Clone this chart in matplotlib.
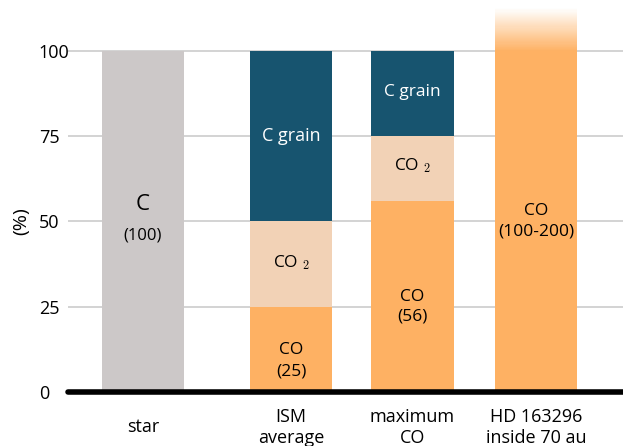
import matplotlib
matplotlib.use("Agg")
import matplotlib.pyplot as plt

plt.rcParams["font.family"] = ["Open Sans", "DejaVu Sans"]
plt.rcParams["mathtext.fontset"] = "cm"

# Carbon budget per reservoir, in percent of the stellar value
categories = ["star", "ISM\naverage", "maximum\nCO", "HD 163296\ninside 70 au"]
x_pos = [0.0, 1.21, 2.2, 3.21]
c_star = [100, 0, 0, 0]
co = [0, 25, 56, 100]
co2 = [0, 25, 19, 0]
c_grain = [0, 50, 25, 0]
hd_fade_top = 112.5  # HD 163296 bar keeps going above 100, faded out
y_ticks = [0, 25, 50, 75, 100]

GRAY = "#ccc8c8"
NAVY = "#17546f"
PEACH = "#f2d2b6"
ORANGE = "#feb163"
W = 0.67

fig = plt.figure(figsize=(6.23, 4.46), dpi=100)
ax = fig.add_axes([68 / 623, 54 / 446, 1 - 68 / 623, 392 / 446])
ax.set_xlim(-0.612, 3.918)
ax.set_ylim(0, 114.95)

for y in y_ticks[1:]:
    ax.axhline(y, color="#d0d0d0", lw=1.3, zorder=0)

ax.bar(x_pos, c_star, W, color=GRAY, zorder=2)
ax.bar(x_pos, co, W, color=ORANGE, zorder=2)
ax.bar(x_pos, co2, W, bottom=co, color=PEACH, zorder=2)
ax.bar(x_pos, c_grain, W, bottom=[a + b for a, b in zip(co, co2)], color=NAVY, zorder=2)

# fade above 100 for the last bar
n = 40
step = (hd_fade_top - co[3]) / n
for i in range(n):
    ax.bar(x_pos[3], step, W, bottom=co[3] + i * step, color=ORANGE,
           alpha=1 - (i + 0.5) / n, lw=0, antialiased=False, zorder=2)

ax.axhline(0, color="black", lw=4, solid_capstyle="round", zorder=3, clip_on=False)

txt = dict(ha="center", va="center", zorder=4)
ax.text(x_pos[0], 55, "C", fontsize=16, **txt)
ax.text(x_pos[0], 46, "(100)", fontsize=12, **txt)

ax.text(x_pos[1], 75, "C grain", fontsize=13, color="white", **txt)
ax.text(x_pos[1], 38, "CO $_2$", fontsize=12.5, **txt)
ax.text(x_pos[1], 12.4, "CO", fontsize=12.5, **txt)
ax.text(x_pos[1], 5.9, "(25)", fontsize=12.5, **txt)

ax.text(x_pos[2], 88, "C grain", fontsize=12.5, color="white", **txt)
ax.text(x_pos[2], 66.3, "CO $_2$", fontsize=12.5, **txt)
ax.text(x_pos[2], 28, "CO", fontsize=12.5, **txt)
ax.text(x_pos[2], 22, "(56)", fontsize=12.5, **txt)

ax.text(x_pos[3], 53, "CO", fontsize=12.5, **txt)
ax.text(x_pos[3], 47.2, "(100-200)", fontsize=12.5, **txt)

for x, lab in zip(x_pos, categories):
    ax.text(x, -10.4, lab, fontsize=13, ha="center", va="center",
            linespacing=1.15, clip_on=False)

ax.set_xticks([])
ax.set_yticks(y_ticks)
ax.set_yticklabels([str(v) for v in y_ticks], fontsize=13, ha="left")
ax.tick_params(axis="y", length=0, pad=21)
for s in ax.spines.values():
    s.set_visible(False)
ax.text(-0.99, 50, "(%)", fontsize=14, rotation=90, ha="center", va="center")

fig.savefig("out.png", dpi=100)
